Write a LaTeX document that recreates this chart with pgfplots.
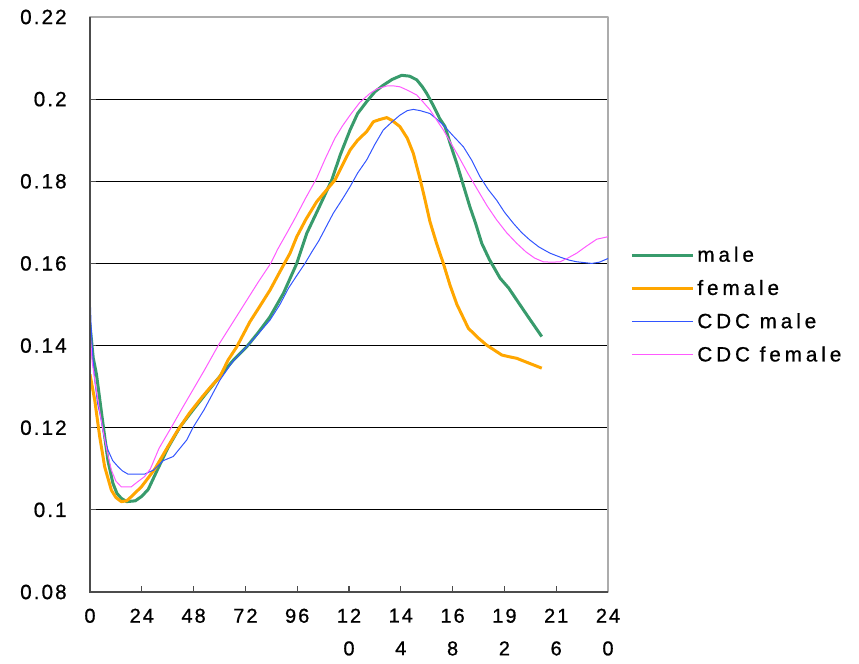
\documentclass[border=0pt]{standalone}
\usepackage{fontspec}
\setmainfont{Liberation Sans}[LetterSpace=10, FakeBold=0.8]
\newfontfamily\legfont{Liberation Sans}[LetterSpace=19, FakeBold=0.8]
\usepackage{pgfplots}
\pgfplotsset{compat=1.18}
\definecolor{cgreen}{RGB}{56,155,108}
\definecolor{corange}{RGB}{255,166,0}
\definecolor{cblue}{RGB}{50,85,255}
\definecolor{cpink}{RGB}{255,90,255}
\begin{document}
\begin{tikzpicture}
\begin{axis}[
  scale only axis, width=388.5pt, height=431.25pt,
  xmin=0, xmax=240, ymin=0.08, ymax=0.22,
  xtick={0,24,48,72,96,120,144,168,192,216,240},
  xticklabels={0,24,48,72,96,{12\\0},{14\\4},{16\\8},{19\\2},{21\\6},{24\\0}},
  ytick={0.08,0.1,0.12,0.14,0.16,0.18,0.2,0.22},
  yticklabels={0.08,0.1,0.12,0.14,0.16,0.18,0.2,0.22},
  /pgf/number format/assume math mode=true,
  xtick pos=bottom, ytick pos=left, tick align=inside, major tick length=4.5pt,
  tick style={black!70, line width=0.9pt},
  ymajorgrids, major grid style={black, line width=0.75pt},
  axis line style={gray!65, line width=1.1pt},
  xticklabel style={align=center, font=\fontsize{15}{24.5}\selectfont, yshift=-9pt},
  yticklabel style={font=\fontsize{15.5}{18}\selectfont, xshift=-14pt},
  legend style={draw=none, fill=none, at={(1.035,0.499)}, anchor=west,
    font=\legfont\fontsize{15.5}{17}\selectfont, row sep=8.2pt},
  legend cell align=left,
  legend image code/.code={\draw[#1] (0pt,0pt) -- (46pt,0pt);},
  line join=round,
]
\addplot[cgreen, line width=2.25pt] coordinates {
(0,0.145)(1.5,0.137)(3,0.133)(4.5,0.127)(6,0.121)(8.3,0.112)(10.6,0.1065)(12.5,0.104)
(14.5,0.1028)(17,0.1020)(21,0.1022)(24,0.1033)(27,0.1050)(31,0.1095)(36,0.1150)
(41.7,0.1202)(48,0.1245)(54,0.1285)(60,0.1324)(66,0.1362)(72.6,0.1397)(78,0.1432)
(83.4,0.147)(89.6,0.1527)(95.8,0.160)(100.4,0.1673)(106,0.1735)(112,0.1803)(116,0.1865)
(120.5,0.1925)(124,0.1965)(128.2,0.1994)(132,0.2018)(135.9,0.2034)(140,0.2048)
(144.4,0.2058)(148,0.2056)(151.4,0.2047)(154,0.2030)(156,0.2014)(159,0.1985)(162,0.1953)
(164.5,0.1933)(167,0.1890)(169.9,0.1844)(173,0.1790)(176,0.1738)(178.5,0.1700)
(181.5,0.1649)(185,0.1610)(190,0.1564)(194,0.1540)(197.7,0.1511)(203,0.1470)(209.3,0.1422)
};
\addlegendentry{male}
\addplot[corange, line width=2.25pt] coordinates {
(0,0.1330)(2.2,0.1267)(4.5,0.1178)(6.8,0.1105)(9.9,0.1048)(12,0.103)(14.5,0.102)(17,0.1022)
(19.1,0.1032)(23.8,0.1056)(27,0.1078)(30.1,0.1100)(36.1,0.1154)(40.2,0.119)(46,0.1235)
(52,0.1275)(56,0.1300)(60.2,0.1324)(64,0.1365)(68,0.1397)(74.1,0.1458)(78,0.1490)
(83.4,0.1535)(88,0.1580)(92.7,0.1625)(95.8,0.1665)(100,0.1707)(105,0.1750)(109,0.1775)
(113.5,0.1803)(117,0.1840)(120.5,0.1876)(124,0.1900)(128.2,0.1921)(131.3,0.1945)
(134,0.1950)(137.5,0.1955)(140,0.1948)(143.6,0.1933)(147,0.1905)(149.8,0.1868)
(152.9,0.1806)(155,0.1760)(157.5,0.1702)(160.5,0.1650)(163.7,0.1600)(166.8,0.1547)
(170,0.1500)(175.3,0.1442)(180,0.1418)(183.8,0.1401)(187,0.1390)(190.8,0.1377)
(194,0.1373)(197.7,0.1369)(203,0.1358)(209.3,0.1345)
};
\addlegendentry{female}
\addplot[cblue, line width=0.75pt] coordinates {
(0,0.153)(0.5,0.145)(1.2,0.138)(2.2,0.1316)(3.5,0.126)(5.2,0.1219)(6.5,0.118)(8.3,0.1146)
(10.5,0.112)(13,0.1105)(15,0.1095)(17.6,0.1087)(21,0.1087)(25.3,0.1087)(29.5,0.1097)
(34,0.1120)(38.6,0.1130)(44.8,0.1170)(47.9,0.1202)(53,0.1245)(60.2,0.1316)(66,0.1360)
(74.1,0.1406)(79,0.1435)(83.4,0.1462)(88,0.1500)(92,0.1540)(96,0.1572)(99.6,0.1600)
(103,0.1630)(106,0.1655)(109,0.1685)(112.7,0.1722)(117,0.1757)(120.5,0.1787)(124,0.1820)
(128.2,0.1852)(132,0.1890)(135.9,0.1925)(140,0.1945)(143.6,0.1961)(147,0.1972)
(149.8,0.1975)(153,0.1972)(157.5,0.1965)(160.5,0.1952)(163.7,0.1937)(168,0.1912)
(173,0.1884)(177,0.1850)(180.7,0.1811)(184.5,0.1780)(188.4,0.1754)(192,0.1725)
(196.1,0.1698)(200,0.1675)(203.8,0.1657)(208,0.1640)(213.1,0.1625)(218,0.1615)
(222,0.1608)(225.5,0.1604)(229,0.1602)(232.5,0.1600)(236,0.1603)(240,0.1612)
};
\addlegendentry{CDC male}
\addplot[cpink, line width=0.75pt] coordinates {
(0,0.144)(1,0.136)(2.9,0.1292)(4.5,0.124)(6,0.1194)(8,0.114)(9.9,0.1097)(12,0.107)
(14.5,0.1056)(19.1,0.1056)(22,0.1068)(25.3,0.1081)(28,0.1100)(32,0.1150)(37.8,0.1202)
(43,0.1250)(48,0.1295)(53,0.1340)(59.5,0.1401)(66,0.1455)(72,0.1505)(78,0.1555)
(83.7,0.1600)(87,0.1635)(91.1,0.1673)(95,0.1710)(100,0.1760)(105,0.1807)(109,0.1855)
(113.5,0.1905)(117,0.1935)(120.5,0.1961)(125,0.1992)(129.7,0.2014)(133,0.2025)
(137.5,0.2032)(141,0.2032)(143.6,0.2030)(147,0.2022)(151.4,0.2010)(154,0.1995)
(157.5,0.1974)(160.5,0.1950)(163.7,0.1925)(167,0.1895)(170.4,0.1864)(175,0.1820)
(179.6,0.1779)(184,0.1740)(188.4,0.1706)(193,0.1675)(197.7,0.1649)(202,0.1628)
(206,0.1613)(210,0.1604)(214,0.1603)(217.8,0.1604)(221,0.1612)(225.5,0.1625)
(230,0.1642)(234.8,0.1659)(240,0.1665)
};
\addlegendentry{CDC female}
\end{axis}
\draw[black!70, line width=1.5pt] (current axis.north west) -- (current axis.south west) -- (current axis.south east);
\pgfresetboundingbox
\path[use as bounding box] ([shift={(-67.5pt,-53.25pt)}]current axis.south west) rectangle ([shift={(188.25pt,12.75pt)}]current axis.north east);
\end{tikzpicture}
\end{document}
